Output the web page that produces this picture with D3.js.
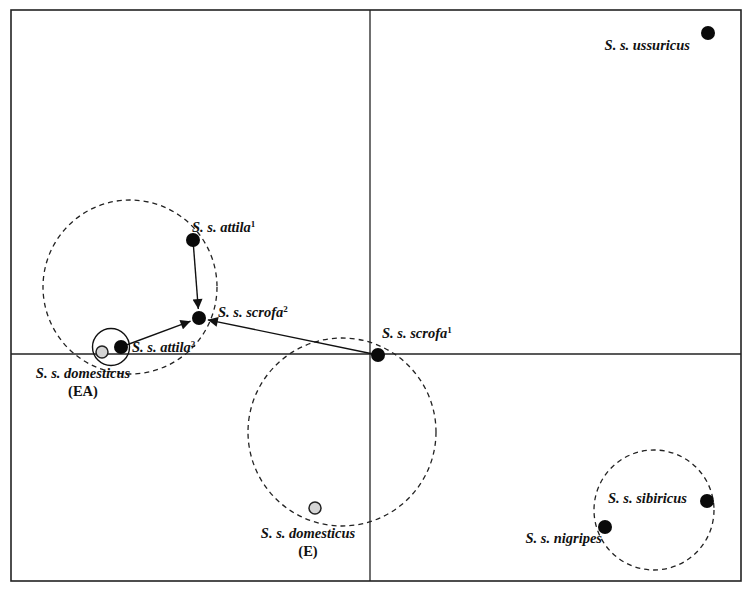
<!DOCTYPE html>
<html lang="en">
<head>
<meta charset="UTF-8">
<title>Sus scrofa subspecies ordination</title>
<script src="https://d3js.org/d3.v7.min.js"></script>
<style>
  body { margin: 0; background: #fff; }
  svg { display: block; }
  .lbl { font-family: "Liberation Serif", "Times New Roman", serif; font-weight: bold; font-style: italic; font-size: 14.5px; fill: #111; }
  .sub { font-style: normal; }
</style>
</head>
<body>
<svg id="chart" width="750" height="597"></svg>
<script>
// ordination scores (axis 1, axis 2)
const taxa   = ["S. s. ussuricus", "S. s. attila", "S. s. scrofa", "S. s. attila", "S. s. domesticus", "S. s. scrofa", "S. s. domesticus", "S. s. sibiricus", "S. s. nigripes"];
const marks  = ["", "1", "2", "2", "", "1", "", "", ""];
const groups = ["", "", "", "", "(EA)", "", "(E)", "", ""];
const axis1  = [3.38, -1.77, -1.71, -2.49, -2.68, 0.08, -0.55, 3.37, 2.35];
const axis2  = [3.21, 1.14, 0.36, 0.07, 0.02, -0.01, -1.54, -1.47, -1.73];
const domestic = [false, false, false, false, true, false, true, false, false];

// arrows: from index -> to index
const arrowFrom = [1, 3, 5];
const arrowTo   = [2, 2, 2];

// dashed clusters (centre x, centre y, radius in axis units)
const clusterX = [-2.40, -0.28, 2.84];
const clusterY = [0.67, -0.78, -1.56];
const clusterR = [0.87, 0.94, 0.60];

// solid ring round the EA domestic pig
const ringX = -2.59, ringY = 0.07, ringR = 0.185;

const xDomain = [-3.59, 3.71];
const yDomain = [-2.27, 3.44];

const svg = d3.select("#chart");
const x = d3.scaleLinear().domain(xDomain).range([11, 741]);
const y = d3.scaleLinear().domain(yDomain).range([581, 10]);
const unit = x(1) - x(0);

// label placement relative to the point: dx, dy (baseline), anchor
const labelPos = [
  [-18, 17, "end"], [-1, -8, "start"], [19, -1, "start"], [11, 5, "start"],
  [-19, 26, "middle"], [4, -17, "start"], [-7, 30, "middle"], [-20, 2, "end"], [-3, 16, "end"]
];

svg.append("defs").append("marker")
  .attr("id", "head")
  .attr("viewBox", "0 0 10 10")
  .attr("refX", 10).attr("refY", 5)
  .attr("markerWidth", 12).attr("markerHeight", 10)
  .attr("markerUnits", "userSpaceOnUse")
  .attr("orient", "auto")
  .append("path").attr("d", "M0,0 L10,5 L0,10 Z").attr("fill", "#111");

// frame
svg.append("rect")
  .attr("x", x(xDomain[0])).attr("y", y(yDomain[1]))
  .attr("width", x(xDomain[1]) - x(xDomain[0]))
  .attr("height", y(yDomain[0]) - y(yDomain[1]))
  .attr("fill", "none").attr("stroke", "#222").attr("stroke-width", 1.6);

// zero axes
svg.append("line").attr("x1", x(0)).attr("x2", x(0)).attr("y1", y(yDomain[1])).attr("y2", y(yDomain[0]))
  .attr("stroke", "#222").attr("stroke-width", 1.3);
svg.append("line").attr("x1", x(xDomain[0])).attr("x2", x(xDomain[1])).attr("y1", y(0)).attr("y2", y(0))
  .attr("stroke", "#222").attr("stroke-width", 1.3);

// dashed clusters
svg.selectAll("circle.cluster")
  .data(clusterX.map((cx, i) => ({ cx, cy: clusterY[i], r: clusterR[i] })))
  .join("circle")
  .attr("class", "cluster")
  .attr("cx", d => x(d.cx)).attr("cy", d => y(d.cy)).attr("r", d => d.r * unit)
  .attr("fill", "none").attr("stroke", "#222").attr("stroke-width", 1.3)
  .attr("stroke-dasharray", "5,4");

svg.append("circle")
  .attr("cx", x(ringX)).attr("cy", y(ringY)).attr("r", ringR * unit)
  .attr("fill", "none").attr("stroke", "#111").attr("stroke-width", 1.4);

// arrows
const dotR = 7;
svg.selectAll("line.arrow")
  .data(arrowFrom.map((f, i) => ({ f, t: arrowTo[i] })))
  .join("line")
  .attr("class", "arrow")
  .each(function(d) {
    const x1 = x(axis1[d.f]), y1 = y(axis2[d.f]);
    const x2 = x(axis1[d.t]), y2 = y(axis2[d.t]);
    const len = Math.hypot(x2 - x1, y2 - y1);
    const k = (len - dotR - 2) / len;
    d3.select(this)
      .attr("x1", x1).attr("y1", y1)
      .attr("x2", x1 + (x2 - x1) * k).attr("y2", y1 + (y2 - y1) * k);
  })
  .attr("stroke", "#111").attr("stroke-width", 1.4)
  .attr("marker-end", "url(#head)");

// points
const pts = taxa.map((t, i) => ({ t, m: marks[i], g: groups[i], a: axis1[i], b: axis2[i], dom: domestic[i], pos: labelPos[i] }));

svg.selectAll("circle.pt")
  .data(pts)
  .join("circle")
  .attr("class", "pt")
  .attr("cx", d => x(d.a)).attr("cy", d => y(d.b))
  .attr("r", d => d.dom ? 6 : dotR)
  .attr("fill", d => d.dom ? "#d4d4d4" : "#0a0a0a")
  .attr("stroke", d => d.dom ? "#222" : "none")
  .attr("stroke-width", 1.5);

// labels
const lbl = svg.selectAll("text.lbl")
  .data(pts)
  .join("text")
  .attr("class", "lbl")
  .attr("x", d => x(d.a) + d.pos[0])
  .attr("y", d => y(d.b) + d.pos[1])
  .attr("text-anchor", d => d.pos[2]);
lbl.append("tspan").text(d => d.t);
lbl.filter(d => d.m).append("tspan")
  .attr("class", "sub")
  .attr("font-size", 9).attr("dy", -5)
  .text(d => d.m);

svg.selectAll("text.grp")
  .data(pts.filter(d => d.g))
  .join("text")
  .attr("class", "lbl grp")
  .attr("x", d => x(d.a) + d.pos[0])
  .attr("y", d => y(d.b) + d.pos[1] + 18)
  .attr("text-anchor", "middle")
  .style("font-style", "normal")
  .text(d => d.g);
</script>
</body>
</html>
